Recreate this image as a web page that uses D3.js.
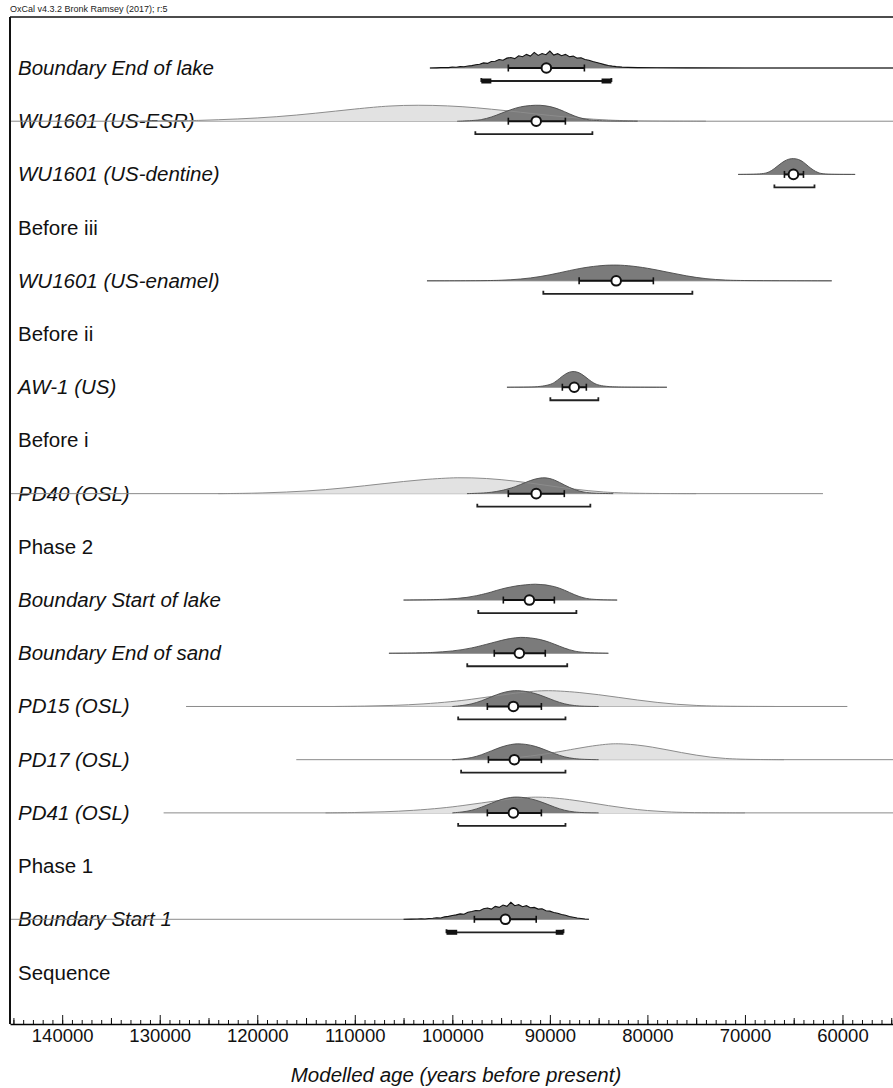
<!DOCTYPE html>
<html>
<head>
<meta charset="utf-8">
<script src="https://cdn.jsdelivr.net/npm/d3@7/dist/d3.min.js"></script>
<style>
body { margin: 0; background: #fff; }
svg { display: block; }
text { font-family: "Liberation Sans", Arial, sans-serif; }
</style>
</head>
<body>
<script>
// rows, top to bottom
var labels = ["Boundary End of lake", "WU1601 (US-ESR)", "WU1601 (US-dentine)", "Before iii",
    "WU1601 (US-enamel)", "Before ii", "AW-1 (US)", "Before i", "PD40 (OSL)", "Phase 2",
    "Boundary Start of lake", "Boundary End of sand", "PD15 (OSL)", "PD17 (OSL)", "PD41 (OSL)",
    "Phase 1", "Boundary Start 1", "Sequence"];
var dated = [1, 1, 1, 0, 1, 0, 1, 0, 1, 0, 1, 1, 1, 1, 1, 0, 1, 0];
var noisy = [1, 0, 0, 0, 0, 0, 0, 0, 0, 0, 0, 0, 0, 0, 0, 0, 1, 0];

// extent of the thin line under each distribution (years BP)
var lineFrom = [102300, 150000, 70700, null, 102600, null, 94400, null, 150000, null, 105000, 106500, 127300, 116000, 129600, null, 150000, null];
var lineTo   = [50000, 50000, 58700, null, 61100, null, 78000, null, 62000, null, 83100, 84000, 59500, 50000, 50000, null, 86000, null];

// mean, 68.2% and 95.4% ranges
var means   = [90360, 91400, 65030, null, 83200, null, 87500, null, 91400, null, 92100, 93130, 93740, 93640, 93740, null, 94560, null];
var sigmaLo = [94260, 94260, 65950, null, 87000, null, 88720, null, 94260, null, 94770, 95700, 96410, 96300, 96410, null, 97740, null];
var sigmaHi = [86460, 88410, 64000, null, 79390, null, 86260, null, 88520, null, 89540, 90470, 90870, 90870, 90870, null, 91400, null];
var rangeLo = [97030, 97640, 66980, null, 90670, null, 89950, null, 97440, null, 97340, 98470, 99400, 99100, 99400, null, 100600, null];
var rangeHi = [83690, 85640, 62870, null, 75390, null, 85030, null, 85850, null, 87280, 88220, 88400, 88400, 88400, null, 88600, null];
// heavier pieces at the ends of the boundary ranges
var rangeBlocks = {0: [[97030, 96000], [84700, 83690]], 16: [[100600, 99500], [89400, 88600]]};

var ticks = [140000, 130000, 120000, 110000, 100000, 90000, 80000, 70000, 60000];

// distributions [age, relative density]
var endLakePost = [[102300,0],[101600,0.01],[101200,0.02],[100800,0.03],[100400,0.02],[100000,0.05],[99600,0.04],[99200,0.08],[98800,0.07],[98400,0.12],[98000,0.14],[97600,0.19],[97200,0.22],[96800,0.3],[96400,0.27],[96000,0.38],[95600,0.4],[95200,0.5],[94800,0.46],[94400,0.58],[94000,0.62],[93600,0.55],[93200,0.72],[92800,0.66],[92400,0.8],[92000,0.7],[91600,0.92],[91200,0.74],[90800,0.85],[90400,0.78],[90000,1.0],[89600,0.76],[89200,0.84],[88800,0.72],[88400,0.8],[88000,0.66],[87600,0.7],[87200,0.58],[86800,0.6],[86400,0.5],[86000,0.46],[85600,0.38],[85200,0.32],[84800,0.26],[84400,0.2],[84000,0.15],[83600,0.11],[83200,0.08],[82600,0.05],[82000,0.035],[81000,0.02],[79000,0.012],[76000,0.007],[70000,0.004],[62000,0.002],[54000,0]];
var esrLike = [[132000,0],[128000,0.02],[126000,0.05],[124000,0.09],[122000,0.14],[120000,0.2],[118000,0.28],[116000,0.38],[114000,0.5],[112000,0.63],[110000,0.76],[108000,0.88],[106500,0.95],[105000,0.99],[103500,1.0],[102000,0.99],[100500,0.96],[99000,0.91],[97500,0.84],[96000,0.75],[94500,0.66],[93000,0.56],[91500,0.46],[90000,0.36],[88500,0.27],[87000,0.19],[85500,0.12],[84000,0.07],[82500,0.035],[80500,0.012],[77000,0.003],[74000,0]];
var esrPost = [[99500,0],[98500,0.02],[97500,0.06],[97000,0.1],[96500,0.17],[96000,0.26],[95500,0.37],[95000,0.49],[94500,0.61],[94000,0.72],[93500,0.82],[93000,0.9],[92500,0.95],[92000,0.98],[91500,1.0],[91000,1.0],[90500,0.97],[90000,0.92],[89500,0.84],[89000,0.73],[88500,0.6],[88000,0.46],[87500,0.33],[87000,0.22],[86500,0.14],[86000,0.08],[85000,0.03],[83500,0.01],[81000,0]];
var dentinePost = [[70700,0],[69000,0.01],[68000,0.05],[67500,0.15],[67000,0.35],[66500,0.6],[66000,0.83],[65500,0.97],[65000,1.0],[64500,0.95],[64000,0.78],[63500,0.5],[63000,0.27],[62500,0.1],[62000,0.03],[61000,0.005],[58700,0]];
var enamelPost = [[102600,0],[97000,0.005],[95000,0.03],[93000,0.1],[91000,0.25],[89000,0.5],[87000,0.78],[85000,0.95],[83500,1.0],[82000,0.96],[80000,0.8],[78000,0.55],[76000,0.3],[74000,0.12],[72000,0.04],[70000,0.01],[61100,0]];
var aw1Post = [[94400,0],[92000,0.01],[91000,0.04],[90000,0.15],[89500,0.3],[89000,0.55],[88500,0.8],[88000,0.96],[87500,1.0],[87000,0.92],[86500,0.72],[86000,0.47],[85500,0.25],[85000,0.12],[84000,0.03],[82500,0.005],[78000,0]];
var pd40Like = [[124000,0],[121000,0.02],[119000,0.05],[117000,0.1],[115000,0.16],[113000,0.25],[111000,0.36],[109000,0.49],[107000,0.63],[105000,0.76],[103000,0.88],[101000,0.96],[99500,1.0],[98000,0.99],[96500,0.95],[95000,0.88],[93500,0.78],[92000,0.66],[90500,0.53],[89000,0.4],[87500,0.28],[86000,0.18],[84500,0.1],[83000,0.05],[81000,0.02],[78000,0.005],[75000,0]];
var pd40Post = [[98500,0],[97000,0.03],[96000,0.08],[95000,0.18],[94000,0.34],[93500,0.45],[93000,0.57],[92500,0.7],[92000,0.82],[91500,0.92],[91000,0.98],[90500,1.0],[90000,0.95],[89500,0.85],[89000,0.7],[88500,0.54],[88000,0.39],[87500,0.26],[87000,0.16],[86500,0.09],[86000,0.05],[85000,0.015],[83500,0]];
var startLakePost = [[105000,0],[103000,0.01],[101500,0.03],[100500,0.06],[99500,0.1],[98500,0.16],[97500,0.27],[96500,0.42],[96000,0.5],[95500,0.6],[95000,0.68],[94500,0.76],[94000,0.82],[93500,0.88],[93000,0.92],[92500,0.95],[92000,0.98],[91500,1.0],[91000,0.97],[90500,0.96],[90000,0.9],[89500,0.84],[89000,0.74],[88500,0.62],[88000,0.48],[87500,0.34],[87000,0.22],[86500,0.13],[86000,0.07],[85000,0.02],[83100,0]];
var endSandPost = [[106500,0],[104500,0.01],[103000,0.03],[102000,0.05],[101000,0.09],[100000,0.14],[99000,0.22],[98000,0.33],[97000,0.48],[96500,0.56],[96000,0.64],[95500,0.72],[95000,0.8],[94500,0.87],[94000,0.93],[93500,0.97],[93000,1.0],[92500,0.99],[92000,0.96],[91500,0.92],[91000,0.86],[90500,0.78],[90000,0.68],[89500,0.56],[89000,0.44],[88500,0.32],[88000,0.22],[87500,0.14],[87000,0.08],[86000,0.03],[84000,0]];
var pd15Like = [[112000,0],[109000,0.02],[106000,0.06],[103000,0.15],[100000,0.3],[98000,0.45],[96000,0.62],[94000,0.8],[92000,0.94],[90500,1.0],[89000,0.97],[87000,0.88],[85000,0.74],[83000,0.57],[81000,0.4],[79000,0.25],[77000,0.13],[75000,0.06],[73000,0.02],[70000,0.005],[67000,0]];
var pd15Post = [[100000,0],[99000,0.05],[98000,0.15],[97000,0.35],[96000,0.6],[95000,0.85],[94000,0.98],[93300,1.0],[92500,0.95],[91500,0.82],[90500,0.6],[89500,0.35],[88500,0.15],[87500,0.05],[86500,0.01],[85000,0]];
var pd17Like = [[100000,0],[97000,0.02],[95000,0.06],[93000,0.15],[91000,0.3],[89000,0.5],[87500,0.67],[86000,0.83],[84500,0.95],[83500,1.0],[82500,0.99],[81000,0.92],[79500,0.79],[78000,0.62],[76500,0.44],[75000,0.28],[73500,0.15],[72000,0.07],[70500,0.03],[68500,0.008],[66000,0]];
var pd17Post = [[100000,0],[99000,0.04],[98000,0.12],[97000,0.3],[96000,0.55],[95000,0.8],[94000,0.96],[93300,1.0],[92500,0.97],[91500,0.85],[90500,0.62],[89500,0.37],[88500,0.16],[87500,0.06],[86500,0.015],[85000,0]];
var pd41Like = [[113000,0],[110000,0.02],[107000,0.06],[104000,0.15],[101000,0.3],[99000,0.45],[97000,0.62],[95000,0.8],[93000,0.94],[91500,1.0],[90000,0.96],[88000,0.84],[86000,0.65],[84000,0.45],[82000,0.27],[80000,0.14],[78000,0.06],[76000,0.02],[73000,0.005],[70000,0]];
var pd41Post = [[100000,0],[99000,0.05],[98000,0.15],[97000,0.35],[96000,0.6],[95000,0.85],[94000,0.98],[93300,1.0],[92500,0.95],[91500,0.82],[90500,0.6],[89500,0.35],[88500,0.15],[87500,0.05],[86500,0.01],[85000,0]];
var start1Post = [[105000,0],[104200,0.01],[103600,0.02],[103200,0.03],[102800,0.02],[102400,0.05],[102000,0.06],[101600,0.09],[101200,0.08],[100800,0.14],[100400,0.17],[100000,0.22],[99600,0.26],[99200,0.32],[98800,0.3],[98400,0.42],[98000,0.46],[97600,0.52],[97200,0.5],[96800,0.62],[96400,0.66],[96000,0.6],[95600,0.76],[95200,0.7],[94800,0.84],[94400,0.76],[94000,1.0],[93600,0.8],[93200,0.86],[92800,0.74],[92400,0.8],[92000,0.68],[91600,0.7],[91200,0.6],[90800,0.62],[90400,0.5],[90000,0.48],[89600,0.4],[89200,0.36],[88800,0.28],[88400,0.24],[88000,0.16],[87600,0.12],[87200,0.08],[86800,0.05],[86400,0.02],[86000,0]];

var likelihood = [null, esrLike, null, null, null, null, null, null, pd40Like, null, null, null, pd15Like, pd17Like, pd41Like, null, null, null];
var posterior = [endLakePost, esrPost, dentinePost, null, enamelPost, null, aw1Post, null, pd40Post, null,
    startLakePost, endSandPost, pd15Post, pd17Post, pd41Post, null, start1Post, null];

var width = 893, height = 1088;
var plotL = 10, plotR = 893, plotT = 17, plotB = 1024;
var H = 16;

var svg = d3.select("body").append("svg")
    .attr("width", width)
    .attr("height", height);

var x = d3.scaleLinear().domain([145350, 54820]).range([plotL, plotR]);
var y = d3.scaleLinear().domain([0, labels.length - 1]).range([68, 972.5]);

svg.append("text")
    .attr("x", 10).attr("y", 12)
    .style("font-size", "9px")
    .style("fill", "#222")
    .text("OxCal v4.3.2 Bronk Ramsey (2017); r:5");

svg.append("defs").append("clipPath").attr("id", "plot")
    .append("rect").attr("x", plotL).attr("y", plotT).attr("width", plotR - plotL).attr("height", plotB - plotT);

// labels
svg.selectAll(".lab")
    .data(labels)
    .enter().append("text")
    .attr("class", "lab")
    .attr("x", 18)
    .attr("y", (d, i) => y(i) + 7)
    .style("font-size", "20.5px")
    .style("font-style", (d, i) => dated[i] ? "italic" : "normal")
    .style("fill", "#111")
    .text(d => d);

var plot = svg.append("g").attr("clip-path", "url(#plot)");

labels.forEach(function (lab, i) {
    if (!dated[i]) return;
    var cy = y(i);
    var g = plot.append("g");
    var curve = noisy[i] ? d3.curveLinear : d3.curveBasis;
    var h = noisy[i] ? 17 : H;

    var area = d3.area()
        .x(d => x(d[0]))
        .y0(cy)
        .y1(d => cy - d[1] * h)
        .curve(curve);
    var edge = d3.line()
        .x(d => x(d[0]))
        .y(d => cy - d[1] * h)
        .curve(curve);

    g.append("line")
        .attr("x1", x(lineFrom[i])).attr("x2", x(lineTo[i]))
        .attr("y1", cy).attr("y2", cy)
        .style("stroke", "#8a8a8a")
        .style("stroke-width", 1);

    if (likelihood[i]) {
        g.append("path").attr("d", area(likelihood[i]))
            .style("fill", "#e2e2e2");
    }
    g.append("path").attr("d", area(posterior[i]))
        .style("fill", "#7b7b7b");
    if (likelihood[i]) {
        g.append("path").attr("d", edge(likelihood[i]))
            .style("fill", "none")
            .style("stroke", "#8c8c8c")
            .style("stroke-width", 1);
    }
    g.append("path").attr("d", edge(posterior[i]))
        .style("fill", "none")
        .style("stroke", noisy[i] ? "#111" : "#4a4a4a")
        .style("stroke-width", noisy[i] ? 1.1 : 0.9);

    // 68.2% bar
    g.append("line")
        .attr("x1", x(sigmaLo[i])).attr("x2", x(sigmaHi[i]))
        .attr("y1", cy).attr("y2", cy)
        .style("stroke", "#111").style("stroke-width", 2);
    [sigmaLo[i], sigmaHi[i]].forEach(function (v) {
        g.append("line")
            .attr("x1", x(v)).attr("x2", x(v))
            .attr("y1", cy - 3.5).attr("y2", cy + 3.5)
            .style("stroke", "#111").style("stroke-width", 1.6);
    });
    g.append("circle")
        .attr("cx", x(means[i])).attr("cy", cy).attr("r", 4.8)
        .style("fill", "#fff").style("stroke", "#111").style("stroke-width", 2);

    // 95.4% bracket
    var by = cy + 13;
    g.append("path")
        .attr("d", "M" + x(rangeLo[i]) + "," + (by - 3) + "V" + by + "H" + x(rangeHi[i]) + "V" + (by - 3))
        .style("fill", "none").style("stroke", "#222").style("stroke-width", 1.8);
    (rangeBlocks[i] || []).forEach(function (b) {
        g.append("rect")
            .attr("x", x(b[0])).attr("width", x(b[1]) - x(b[0]))
            .attr("y", by - 2.5).attr("height", 5)
            .style("fill", "#111");
    });
});

// frame
svg.append("line").attr("x1", plotL).attr("x2", plotR).attr("y1", plotT).attr("y2", plotT)
    .style("stroke", "#111").style("stroke-width", 1.5);
svg.append("line").attr("x1", plotL).attr("x2", plotL).attr("y1", plotT).attr("y2", plotB)
    .style("stroke", "#111").style("stroke-width", 2);

// axis
var axisG = svg.append("g").attr("transform", "translate(0," + plotB + ")");
axisG.append("g").call(d3.axisBottom(x).tickValues(d3.range(55000, 145001, 1000)).tickSize(-4).tickFormat(""))
    .call(g => g.select(".domain").remove());
axisG.append("g").call(d3.axisBottom(x).tickValues(d3.range(55000, 145001, 10000)).tickSize(-6).tickFormat(""))
    .call(g => g.select(".domain").remove());
axisG.append("g").call(d3.axisBottom(x).tickValues(ticks).tickSizeInner(-9).tickSizeOuter(0).tickPadding(5).tickFormat(d3.format("d")))
    .call(g => g.select(".domain").style("stroke-width", 1.6))
    .call(g => g.selectAll("text").style("font-size", "18.5px").style("fill", "#111")
        .style("font-family", "'Liberation Sans', Arial, sans-serif"));
axisG.selectAll(".tick line").style("stroke", "#111");

svg.append("text")
    .attr("x", 456).attr("y", 1082)
    .attr("text-anchor", "middle")
    .style("font-size", "20.5px")
    .style("font-style", "italic")
    .style("fill", "#111")
    .text("Modelled age (years before present)");
</script>
</body>
</html>
